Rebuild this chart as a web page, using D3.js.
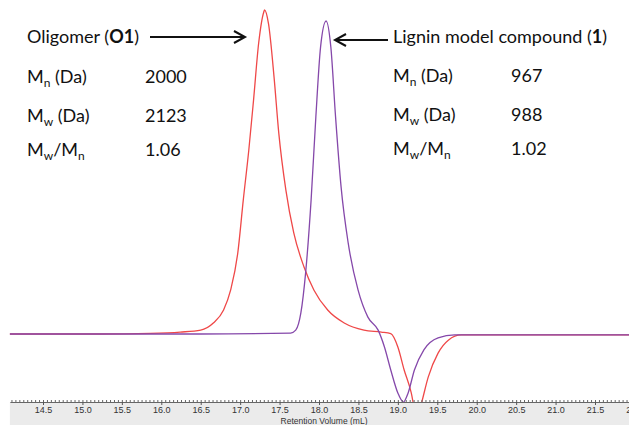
<!DOCTYPE html>
<html>
<head>
<meta charset="utf-8">
<script src="https://cdn.jsdelivr.net/npm/d3@7"></script>
<style>
  body { margin: 0; background: #fff; }
  svg { display: block; }
</style>
</head>
<body>
<div id="chart"></div>
<script>
"use strict";

// Oligomer (O1) trace: retention volume (mL) and detector signal (arbitrary units)
const oligomerVol = [14.08, 15.22, 15.86, 16.24, 16.50, 16.66, 16.79, 16.88, 16.97, 17.04, 17.11, 17.17, 17.235, 17.30, 17.31,
  17.36, 17.43, 17.49, 17.58, 17.68, 17.81, 17.935, 18.11, 18.32, 18.57, 18.79, 18.91, 19.00, 19.08, 19.17, 19.21,
  19.25, 19.30, 19.385, 19.51, 19.64, 19.805, 19.93, 21.0, 22.06];
const oligomerSig = [0, 0, 0.2, 0.6, 1.2, 3.4, 7.4, 13.6, 25.0, 41.4, 56.8, 72.2, 89.8, 99.4, 100,
  95.7, 79.3, 62.0, 44.4, 31.2, 20.7, 13.6, 7.4, 3.4, 1.2, 0.6, 0.1, -4.0, -11.1, -18.2, -23.0,
  -25.5, -21.3, -13.3, -5.9, -1.9, -0.3, -0.3, -0.3, -0.3];

// Lignin model compound (1) trace
const ligninVol = [14.08, 16.5, 17.64, 17.705, 17.77, 17.83, 17.90, 17.96, 18.02, 18.09, 18.15, 18.21, 18.28, 18.37,
  18.495, 18.62, 18.75, 18.83, 18.91, 19.00, 19.07, 19.13, 19.21, 19.33, 19.51, 19.72, 19.93, 21.0, 22.06];
const ligninSig = [0, 0, 0.3, 1.2, 6.5, 18.8, 41.4, 67.0, 88.6, 96.6, 88.6, 67.0, 45.4, 28.1,
  13.6, 5.2, 1.2, -4.0, -11.1, -18.2, -21.0, -18.2, -11.1, -4.9, -1.2, -0.3, -0.3, -0.3, -0.3];

const majorTicks = [14.5, 15.0, 15.5, 16.0, 16.5, 17.0, 17.5, 18.0, 18.5, 19.0, 19.5, 20.0, 20.5, 21.0, 21.5, 22.0];
const xLabel = "Retention Volume (mL)";

const leftRows = [["n", "(Da)", "2000"], ["w", "(Da)", "2123"], ["w", "/M", "1.06", "n"]];
const rightRows = [["n", "(Da)", "967"], ["w", "(Da)", "988"], ["w", "/M", "1.02", "n"]];

const width = 629, height = 425;
const axisY = 402;

const pxPerMl = (595 - 43) / 7;
const x = d3.scaleLinear()
  .domain([14.08, 22.06])
  .range([43 - 0.42 * pxPerMl, 43 + 7.56 * pxPerMl]);
const y = d3.scaleLinear([0, 100], [334, 10]);

const svg = d3.select("#chart").append("svg")
  .attr("width", width)
  .attr("height", height);

svg.append("defs").append("clipPath")
  .attr("id", "plot-clip")
  .append("rect")
  .attr("x", 0).attr("y", 0)
  .attr("width", width).attr("height", axisY);

// axis band
svg.append("rect")
  .attr("x", x(14.08)).attr("y", axisY)
  .attr("width", width - x(14.08)).attr("height", height - axisY)
  .attr("fill", "#ebebeb");

const line = d3.line()
  .x(d => x(d[0]))
  .y(d => y(d[1]))
  .curve(d3.curveMonotoneX);

const plot = svg.append("g").attr("clip-path", "url(#plot-clip)");

plot.append("path")
  .attr("fill", "none")
  .attr("stroke", "#ef4848")
  .attr("stroke-width", 1.3)
  .attr("d", line(d3.zip(oligomerVol, oligomerSig)));

plot.append("path")
  .attr("fill", "none")
  .attr("stroke", "#8548aa")
  .attr("stroke-width", 1.3)
  .attr("d", line(d3.zip(ligninVol, ligninSig)));

// minor ticks every 0.05 mL
svg.append("g")
  .attr("transform", `translate(0,${axisY})`)
  .call(d3.axisBottom(x).tickValues(d3.range(282, 442).map(i => i / 20)).tickSize(-2).tickSizeOuter(0).tickFormat(""))
  .call(g => g.select(".domain").attr("stroke", "#666"))
  .call(g => g.selectAll(".tick line").attr("stroke", "#666"));

svg.append("g")
  .attr("transform", `translate(0,${axisY})`)
  .call(d3.axisBottom(x).tickValues(majorTicks).tickSize(3).tickSizeOuter(0).tickFormat(d3.format(".1f")).tickPadding(2))
  .call(g => g.select(".domain").remove())
  .call(g => g.selectAll(".tick line").attr("stroke", "#555"))
  .call(g => g.selectAll(".tick text")
    .attr("font-family", "Liberation Sans, Arial, sans-serif")
    .attr("font-size", 9)
    .attr("fill", "#333"));

svg.append("text")
  .attr("x", 324).attr("y", 424)
  .attr("text-anchor", "middle")
  .attr("font-family", "Liberation Sans, Arial, sans-serif")
  .attr("font-size", 8.5)
  .attr("fill", "#333")
  .text(xLabel);

// annotations
const font = "Lato, 'Open Sans', sans-serif";
const fs = 18;

const t1 = svg.append("text")
  .attr("x", 27).attr("y", 43)
  .attr("font-family", font).attr("font-size", fs).attr("fill", "#111");
t1.append("tspan").text("Oligomer (");
t1.append("tspan").attr("font-weight", "bold").text("O1");
t1.append("tspan").text(")");

const t2 = svg.append("text")
  .attr("x", 393).attr("y", 43)
  .attr("font-family", font).attr("font-size", fs).attr("fill", "#111");
t2.append("tspan").text("Lignin model compound (");
t2.append("tspan").attr("font-weight", "bold").text("1");
t2.append("tspan").text(")");

function drawRows(rows, xLab, xVal, baselines) {
  rows.forEach((r, i) => {
    const t = svg.append("text")
      .attr("x", xLab).attr("y", baselines[i])
      .attr("font-family", font).attr("font-size", fs).attr("fill", "#111");
    t.append("tspan").text("M");
    t.append("tspan").attr("font-size", 12).attr("dy", 4).text(r[0]);
    if (r[3]) {
      t.append("tspan").attr("dy", -4).text(r[1]);
      t.append("tspan").attr("font-size", 12).attr("dy", 4).text(r[3]);
    } else {
      t.append("tspan").attr("dy", -4).text(" " + r[1]);
    }
    svg.append("text")
      .attr("x", xVal).attr("y", baselines[i])
      .attr("font-family", font).attr("font-size", fs).attr("fill", "#111")
      .text(r[2]);
  });
}
drawRows(leftRows, 27, 145, [83, 122, 156]);
drawRows(rightRows, 393, 511, [82, 121, 155]);

// arrows
function arrow(x1, x2, yy) {
  const dir = Math.sign(x2 - x1);
  svg.append("line")
    .attr("x1", x1).attr("x2", x2 - dir).attr("y1", yy).attr("y2", yy)
    .attr("stroke", "#111").attr("stroke-width", 2);
  svg.append("path")
    .attr("d", `M${x2 - dir * 11},${yy - 6}L${x2},${yy}L${x2 - dir * 11},${yy + 6}`)
    .attr("fill", "none").attr("stroke", "#111").attr("stroke-width", 2)
    .attr("stroke-linejoin", "miter");
}
arrow(150, 245, 37);
arrow(388, 335, 40);
</script>
</body>
</html>
